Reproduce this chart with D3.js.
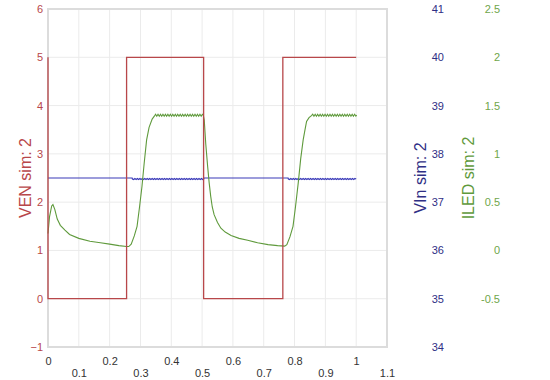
<!DOCTYPE html>
<html><head><meta charset="utf-8">
<script src="https://cdn.jsdelivr.net/npm/d3@7"></script>
<style>body{margin:0;background:#fff}svg{display:block;font-family:"Liberation Sans",Arial,sans-serif}</style>
</head><body><svg id="c" width="550" height="380"></svg>
<script>
// ---- data ----
const xTicks = [0,0.1,0.2,0.3,0.4,0.5,0.6,0.7,0.8,0.9,1,1.1];
const venTicks = [-1,0,1,2,3,4,5,6];
const vinTicks = [34,35,36,37,38,39,40,41];
const iledTicks = [-0.5,0,0.5,1,1.5,2,2.5];
const venTitle = "VEN sim:  2", vinTitle = "VIn sim:  2", iledTitle = "ILED sim:  2";

const venT = [0,0,0.255,0.255,0.505,0.505,0.762,0.762,1.0];
const venV = [5,0,0,5,5,0,0,5,5];

const vinT = [0,0.273,0.274,0.278,0.282,0.286,0.290,0.294,0.298,0.302,0.306,0.310,0.314,0.318,0.322,0.326,0.330,0.334,0.338,0.342,0.346,0.350,0.354,0.358,0.362,0.366,0.370,0.374,0.378,0.382,0.386,0.390,0.394,0.398,0.402,0.406,0.410,0.414,0.418,0.422,0.426,0.430,0.434,0.438,0.442,0.446,0.450,0.454,0.458,0.462,0.466,0.470,0.474,0.478,0.482,0.486,0.490,0.494,0.498,0.502,0.505,0.506,0.779,0.780,0.784,0.788,0.792,0.796,0.800,0.804,0.808,0.812,0.816,0.820,0.824,0.828,0.832,0.836,0.840,0.844,0.848,0.852,0.856,0.860,0.864,0.868,0.872,0.876,0.880,0.884,0.888,0.892,0.896,0.900,0.904,0.908,0.912,0.916,0.920,0.924,0.928,0.932,0.936,0.940,0.944,0.948,0.952,0.956,0.960,0.964,0.968,0.972,0.976,0.980,0.984,0.988,0.992,0.996,1.0];
const vinV = [37.5,37.5,37.48,37.47,37.49,37.47,37.49,37.47,37.49,37.47,37.49,37.47,37.49,37.47,37.49,37.47,37.49,37.47,37.49,37.47,37.49,37.47,37.49,37.47,37.49,37.47,37.49,37.47,37.49,37.47,37.49,37.47,37.49,37.47,37.49,37.47,37.49,37.47,37.49,37.47,37.49,37.47,37.49,37.47,37.49,37.47,37.49,37.47,37.49,37.47,37.49,37.47,37.49,37.47,37.49,37.47,37.49,37.47,37.49,37.47,37.48,37.5,37.5,37.48,37.47,37.49,37.47,37.49,37.47,37.49,37.47,37.49,37.47,37.49,37.47,37.49,37.47,37.49,37.47,37.49,37.47,37.49,37.47,37.49,37.47,37.49,37.47,37.49,37.47,37.49,37.47,37.49,37.47,37.49,37.47,37.49,37.47,37.49,37.47,37.49,37.47,37.49,37.47,37.49,37.47,37.49,37.47,37.49,37.47,37.49,37.47,37.49,37.47,37.49,37.47,37.49,37.47,37.49,37.48];

const iledT = [0,0.005,0.012,0.016,0.022,0.03,0.04,0.055,0.07,0.1,0.136,0.17,0.2,0.23,0.255,0.262,0.27,0.28,0.289,0.297,0.305,0.312,0.32,0.328,0.338,0.345,
0.349,0.353,0.357,0.361,0.365,0.369,0.373,0.377,0.381,0.385,0.389,0.393,0.397,0.401,0.405,0.409,0.413,0.417,0.421,0.425,0.429,0.433,0.437,0.441,0.445,0.449,0.453,0.457,0.461,0.465,0.469,0.473,0.477,0.481,0.485,0.489,0.493,0.497,0.501,0.504,
0.507,0.512,0.518,0.523,0.528,0.533,0.539,0.55,0.561,0.575,0.594,0.62,0.648,0.68,0.714,0.745,0.768,0.775,0.785,0.795,0.803,0.812,0.82,0.828,0.834,0.839,0.847,0.855,
0.859,0.863,0.867,0.871,0.875,0.879,0.883,0.887,0.891,0.895,0.899,0.903,0.907,0.911,0.915,0.919,0.923,0.927,0.931,0.935,0.939,0.943,0.947,0.951,0.955,0.959,0.963,0.967,0.971,0.975,0.979,0.983,0.987,0.991,0.995,0.999,1.002];
const iledV = [0.175,0.35,0.46,0.475,0.425,0.325,0.26,0.21,0.165,0.125,0.095,0.08,0.065,0.05,0.04,0.04,0.065,0.15,0.25,0.45,0.665,0.9,1.145,1.275,1.36,1.39,
1.41,1.39,1.41,1.39,1.41,1.39,1.41,1.39,1.41,1.39,1.41,1.39,1.41,1.39,1.41,1.39,1.41,1.39,1.41,1.39,1.41,1.39,1.41,1.39,1.41,1.39,1.41,1.39,1.41,1.39,1.41,1.39,1.41,1.39,1.41,1.39,1.41,1.39,1.41,1.40,
1.35,1.1,0.87,0.7,0.56,0.45,0.37,0.29,0.23,0.19,0.155,0.125,0.105,0.08,0.06,0.05,0.045,0.06,0.14,0.25,0.45,0.7,0.95,1.145,1.25,1.335,1.375,1.395,
1.41,1.39,1.41,1.39,1.41,1.39,1.41,1.39,1.41,1.39,1.41,1.39,1.41,1.39,1.41,1.39,1.41,1.39,1.41,1.39,1.41,1.39,1.41,1.39,1.41,1.39,1.41,1.39,1.41,1.39,1.41,1.39,1.41,1.39,1.41,1.39,1.40];

// ---- layout ----
const W = 550, H = 380;
const m = {left:48, right:163, top:9, bottom:33};
const pw = W - m.left - m.right, ph = H - m.top - m.bottom;
const svg = d3.select("#c");
const g = svg.append("g").attr("transform", `translate(${m.left},${m.top})`);

const x = d3.scaleLinear().domain([0,1.1]).range([0,pw]);
const yL = d3.scaleLinear().domain([-1,6]).range([ph,0]);
const yV = d3.scaleLinear().domain([34,41]).range([ph,0]);
const yI = d3.scaleLinear().domain([-1,2.5]).range([ph,0]);

const cRed = "#b8474a", cBlue = "#3a3ab8", cNavy = "#2f2f85", cGreen = "#5f9a3c", cGreenT = "#6fa64a";

// grid
g.append("g").selectAll("line").data(xTicks).join("line")
  .attr("x1", d=>x(d)).attr("x2", d=>x(d)).attr("y1",0).attr("y2",ph)
  .attr("stroke","#ebebeb").attr("stroke-width",1);
g.append("g").selectAll("line").data(venTicks).join("line")
  .attr("x1",0).attr("x2",pw).attr("y1", d=>yL(d)).attr("y2", d=>yL(d))
  .attr("stroke","#ebebeb").attr("stroke-width",1);
g.append("rect").attr("x",0).attr("y",0).attr("width",pw).attr("height",ph)
  .attr("fill","none").attr("stroke","#dcdcdc").attr("stroke-width",2);

// axes (labels only)
const axL = d3.axisLeft(yL).tickValues(venTicks).tickSize(0).tickPadding(5).tickFormat(d3.format("d"));
const gL = g.append("g").call(axL);
gL.select(".domain").remove();
gL.selectAll("text").attr("fill", cRed).style("font-size","11px").style("font-family","Liberation Sans, Arial");

const axV = d3.axisRight(yV).tickValues(vinTicks).tickSize(0).tickFormat(d3.format("d"));
const gV = g.append("g").attr("transform", `translate(${396 - m.left},0)`).call(axV);
gV.select(".domain").remove();
gV.selectAll("text").attr("fill", cNavy).attr("x", 0).style("font-size","11px").style("font-family","Liberation Sans, Arial")
  .attr("text-anchor","end").attr("dx", (444-396)+"px");

const axI = d3.axisRight(yI).tickValues(iledTicks).tickSize(0).tickFormat(d=>String(d));
const gI = g.append("g").attr("transform", `translate(${500 - m.left},0)`).call(axI);
gI.select(".domain").remove();
gI.selectAll("text").attr("fill", cGreenT).attr("x", 0).attr("text-anchor","end").style("font-size","11px").style("font-family","Liberation Sans, Arial");

const axB = d3.axisBottom(x).tickValues(xTicks).tickSize(0).tickFormat(d=>String(d));
const gB = g.append("g").attr("transform", `translate(0,${ph})`).call(axB);
gB.select(".domain").remove();
gB.selectAll("text").attr("fill","#333").style("font-size","11px").style("font-family","Liberation Sans, Arial")
  .attr("y", (d,i)=> i%2===0 ? 10 : 22).attr("dy","0.71em");

// titles
svg.append("text").attr("transform","translate(25,178) rotate(-90)").attr("text-anchor","middle")
  .attr("dominant-baseline","central").attr("fill",cRed).style("font-size","16px").text(venTitle);
svg.append("text").attr("transform","translate(420,178) rotate(-90)").attr("text-anchor","middle")
  .attr("dominant-baseline","central").attr("fill",cNavy).style("font-size","16px").text(vinTitle);
svg.append("text").attr("transform","translate(468,178) rotate(-90)").attr("text-anchor","middle")
  .attr("dominant-baseline","central").attr("fill",cGreen).style("font-size","16px").text(iledTitle);

// lines
const ven = venT.map((t,i)=>[t,venV[i]]);
const vin = vinT.map((t,i)=>[t,vinV[i]]);
const iled = iledT.map((t,i)=>[t,iledV[i]]);

g.append("path").datum(vin).attr("fill","none").attr("stroke",cBlue).attr("stroke-width",1.2)
  .attr("d", d3.line().x(d=>x(d[0])).y(d=>yV(d[1])));
g.append("path").datum(iled).attr("fill","none").attr("stroke",cGreen).attr("stroke-width",1.1)
  .attr("d", d3.line().x(d=>x(d[0])).y(d=>yI(d[1])));
g.append("path").datum(ven).attr("fill","none").attr("stroke",cRed).attr("stroke-width",1.3)
  .attr("d", d3.line().x(d=>x(d[0])).y(d=>yL(d[1])));
</script></body></html>
